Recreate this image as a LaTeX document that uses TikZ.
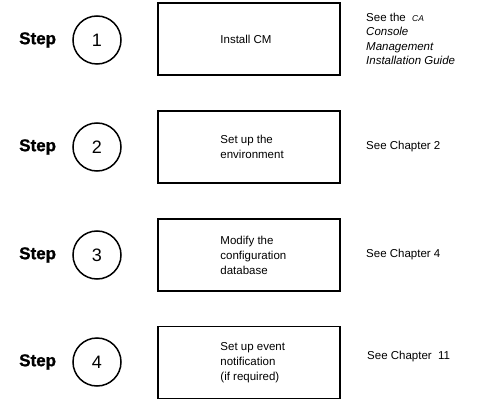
\documentclass[tikz,border=0pt]{standalone}
\usepackage{fontspec}
\setmainfont{Liberation Sans}
\newfontfamily\stepfont{Liberation Sans Bold}[FakeBold=1.2]
\usepackage{tikz}
\usetikzlibrary{positioning}

\begin{document}
\begin{tikzpicture}[
    x=1pt, y=-1pt,
    every node/.style={font=\fontsize{11.5}{15}\selectfont},
    steplabel/.style={inner sep=0pt, font=\fontsize{17}{20}\stepfont},
    stepnum/.style={circle, draw, line width=1.5pt, minimum size=48pt, inner sep=0pt, font=\fontsize{18}{20}\selectfont},
    stepbox/.style={rectangle, draw, line width=1.5pt, minimum width=182pt, minimum height=72pt},
    boxtext/.style={inner sep=0pt, align=left, anchor=west},
    note/.style={inner sep=0pt, align=left, anchor=west},
]
    \useasboundingbox (0,0) rectangle (489,414);

    \node[stepnum] (n1) at (97,40) {1};
    \node[stepnum] (n2) at (97,147) {2};
    \node[stepnum] (n3) at (97,255) {3};
    \node[stepnum] (n4) at (97,362) {4};

    \node[steplabel, left=16pt of n1] (s1) {Step};
    \node[steplabel, left=16pt of n2] (s2) {Step};
    \node[steplabel, left=16pt of n3] (s3) {Step};
    \node[steplabel, left=16pt of n4] (s4) {Step};

    \node[stepbox] (b1) at (249,39) {};
    \node[stepbox] (b2) at (249,147) {};
    \node[stepbox] (b3) at (249,255) {};
    \node[stepbox] (b4) at (249,362.5) {};

    % box texts
    \node[boxtext, right=63pt of b1.west] (t1) {Install CM};
    \node[boxtext, right=63pt of b2.west] (t2) {Set up the\\environment};
    \node[boxtext, right=63pt of b3.west] (t3) {Modify the\\configuration\\database};
    \node[boxtext, right=63pt of b4.west] (t4) {Set up event\\notification\\(if required)};

    % references
    \node[note, font=\fontsize{11.5}{14.5}\selectfont] (r1) at (366,39)
        {See the\ \ {\fontsize{8.5}{10}\selectfont\itshape CA}\\
         \textit{Console}\\ \textit{Management}\\ \textit{Installation Guide}};
    \node[note] (r2) at (366,147) {See Chapter 2};
    \node[note] (r3) at (366,255) {See Chapter 4};
    \node[note] (r4) at (367,357) {See Chapter\ \ 11};
\end{tikzpicture}
\end{document}
